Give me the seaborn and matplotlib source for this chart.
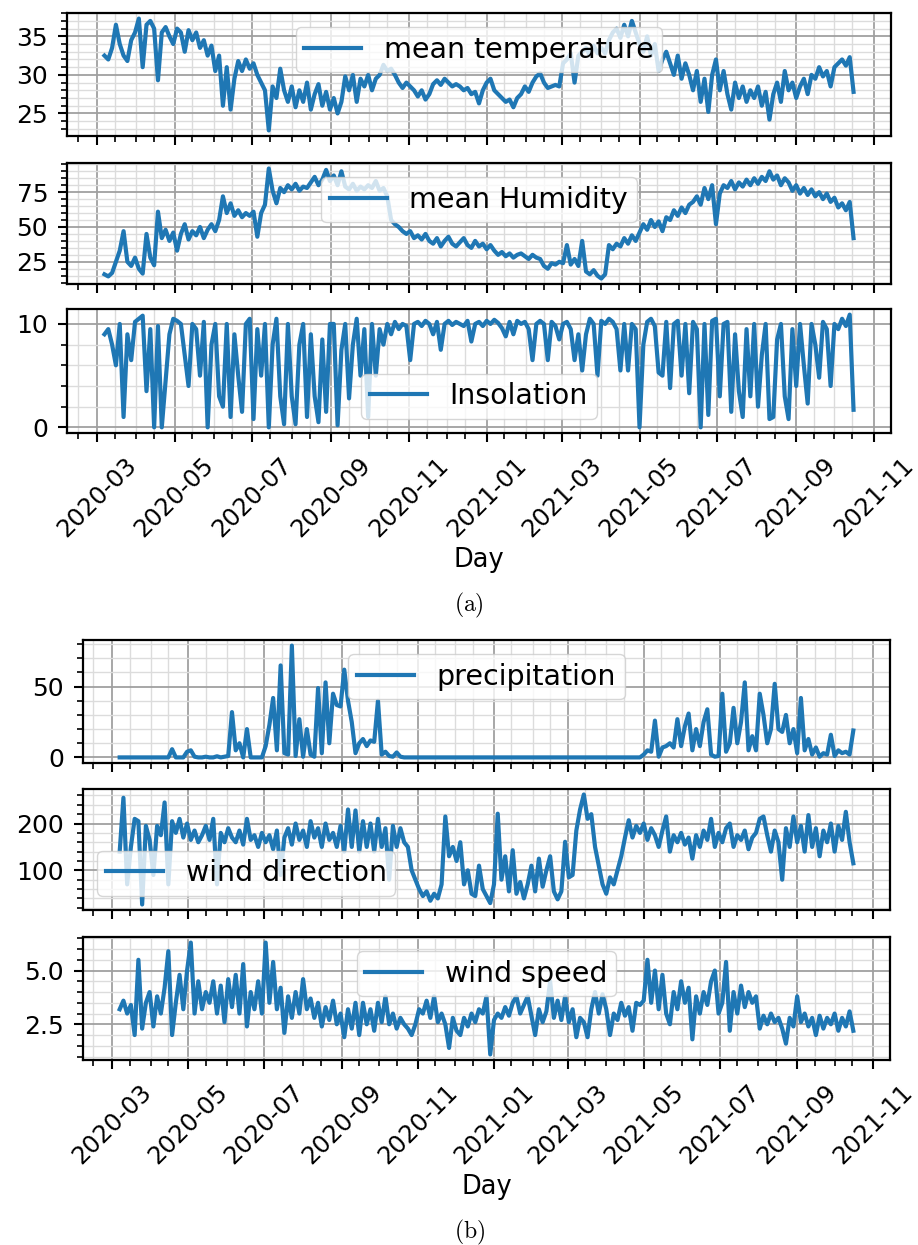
import numpy as np
import pandas as pd
import matplotlib
matplotlib.use("Agg")
import matplotlib.pyplot as plt
import matplotlib.dates as mdates
from matplotlib.ticker import MultipleLocator, AutoMinorLocator
import seaborn as sns

# ---------------- data (values every 3 days starting 2020-03-07) ----------------
start_date = "2020-03-07"
step = "3D"

mean_temperature = [
    32.5, 32.0, 33.5, 36.5, 34.0, 32.5, 31.8, 34.5, 35.5, 37.3,
    31.0, 36.5, 37.0, 36.0, 29.3, 35.5, 36.2, 35.0, 34.0, 36.0,
    35.5, 33.0, 35.8, 34.5, 35.5, 33.5, 34.5, 32.5, 33.8, 30.5,
    32.5, 26.0, 31.0, 25.5, 29.5, 31.8, 30.5, 32.0, 30.8, 31.5,
    30.0, 29.0, 28.0, 22.8, 28.5, 27.0, 30.8, 28.0, 26.5, 28.5,
    25.8, 28.0, 26.5, 29.0, 25.5, 27.5, 28.8, 26.0, 27.8, 25.5,
    27.0, 25.0, 26.5, 29.8, 28.0, 30.0, 26.5, 29.5, 28.5, 30.0,
    28.0, 29.5, 30.0, 31.3, 30.5, 30.8, 30.0, 29.0, 28.3, 29.0,
    28.5, 28.0, 27.2, 28.0, 26.8, 27.5, 28.8, 29.3, 28.7, 29.5,
    29.0, 28.5, 28.8, 28.5, 28.0, 28.3, 27.5, 27.8, 26.3, 28.0,
    29.0, 29.5, 28.0, 27.5, 27.0, 26.5, 26.8, 25.8, 27.0, 27.5,
    28.5, 27.8, 29.0, 29.8, 30.2, 29.0, 28.3, 28.5, 28.7, 28.5,
    31.5, 32.0, 32.8, 29.0, 32.5, 33.0, 33.5, 32.5, 33.8, 32.8,
    33.5, 32.8, 34.5, 35.5, 36.0, 34.8, 36.5, 35.0, 37.0, 35.5,
    34.0, 33.0, 35.0, 32.5, 34.0, 30.5, 32.0, 33.0, 31.5, 30.0,
    32.5, 29.5, 31.5, 30.0, 28.0, 30.5, 26.5, 29.5, 25.2, 30.0,
    32.0, 28.0, 30.5, 27.5, 25.5, 29.0, 27.0, 28.5, 26.5, 28.0,
    27.0, 28.5, 26.0, 27.8, 24.2, 27.5, 29.0, 26.5, 30.5, 28.0,
    29.0, 27.0, 28.5, 29.5, 27.5, 30.0, 29.5, 31.0, 29.8, 30.5,
    28.5, 31.0, 31.5, 32.0, 31.2, 32.3, 27.8,
]

mean_humidity = [
    16.0, 14.5, 17.0, 25.0, 33.0, 47.0, 25.0, 22.0, 28.0, 20.0,
    16.5, 45.0, 28.0, 22.5, 61.0, 42.0, 48.0, 40.0, 46.0, 33.0,
    45.0, 52.0, 41.0, 47.0, 44.0, 50.0, 42.0, 48.0, 52.0, 47.0,
    55.0, 72.0, 60.0, 67.0, 58.0, 62.0, 57.0, 60.0, 58.0, 61.0,
    43.0, 60.0, 66.0, 92.0, 76.0, 67.0, 78.0, 75.0, 80.0, 77.0,
    81.0, 76.0, 79.0, 78.0, 82.0, 86.0, 80.0, 84.0, 91.0, 83.0,
    87.0, 80.0, 90.0, 79.0, 77.0, 81.0, 76.0, 79.0, 77.0, 80.0,
    78.0, 83.0, 76.0, 78.0, 72.0, 55.0, 52.0, 50.0, 47.0, 45.0,
    47.0, 42.0, 44.0, 41.0, 45.0, 40.0, 38.0, 42.0, 36.0, 40.0,
    43.0, 38.0, 36.0, 39.0, 42.0, 37.0, 35.0, 40.0, 36.0, 38.0,
    34.0, 37.0, 33.0, 30.0, 32.0, 29.0, 31.0, 28.0, 30.0, 31.0,
    29.0, 27.0, 30.0, 28.0, 27.0, 22.0, 20.0, 24.0, 23.0, 25.0,
    24.0, 37.0, 23.0, 27.0, 22.0, 40.0, 18.0, 16.0, 19.0, 15.0,
    13.0, 16.0, 37.0, 34.0, 38.0, 36.0, 42.0, 38.0, 44.0, 40.0,
    46.0, 52.0, 48.0, 55.0, 50.0, 54.0, 47.0, 57.0, 55.0, 62.0,
    58.0, 64.0, 60.0, 66.0, 68.0, 72.0, 66.0, 78.0, 70.0, 80.0,
    52.0, 74.0, 80.0, 78.0, 83.0, 77.0, 82.0, 79.0, 84.0, 80.0,
    85.0, 81.0, 86.0, 83.0, 90.0, 84.0, 87.0, 80.0, 85.0, 82.0,
    76.0, 80.0, 74.0, 78.0, 73.0, 77.0, 72.0, 75.0, 70.0, 74.0,
    68.0, 71.0, 64.0, 67.0, 62.0, 68.0, 42.0,
]

insolation = [
    9.0, 9.5, 8.0, 6.0, 10.0, 1.0, 9.0, 6.5, 10.2, 10.5,
    10.8, 3.5, 9.5, 0.0, 9.8, 0.0, 4.5, 9.0, 10.5, 10.3,
    10.0, 7.0, 4.0, 10.0, 9.5, 5.0, 10.2, 0.0, 8.0, 10.0,
    3.0, 2.0, 10.0, 1.0, 9.0, 5.0, 1.5, 10.0, 10.5, 0.8,
    9.5, 5.0, 10.0, 0.0, 8.0, 10.5, 3.0, 0.3, 10.0, 3.0,
    0.3, 8.0, 10.0, 1.0, 9.0, 3.0, 0.5, 8.5, 1.5, 10.0,
    10.0, 0.2, 7.5, 10.0, 2.8, 8.0, 10.5, 5.0, 9.5, 1.0,
    10.0, 5.0, 9.5, 8.0, 10.0, 9.0, 10.2, 9.5, 10.0, 9.8,
    6.5, 10.0, 10.2, 9.8, 10.3, 10.0, 9.0, 10.2, 7.5, 10.0,
    10.3, 9.9, 10.2, 10.0, 9.8, 10.3, 8.3, 10.0, 10.2, 9.8,
    10.3, 10.0, 10.4, 10.1, 9.6, 8.8, 10.2, 9.0, 10.3, 10.0,
    10.2, 9.5, 6.5, 10.0, 10.3, 10.0, 6.5, 10.2, 9.8, 8.5,
    10.0, 10.2, 9.5, 6.5, 9.0, 5.5, 9.0, 10.5, 10.0, 5.0,
    10.3, 10.0, 10.5, 10.2, 9.5, 5.5, 10.0, 5.5, 10.0, 9.5,
    0.0, 8.0, 10.2, 10.5, 9.8, 5.3, 5.0, 10.2, 3.8, 10.0,
    10.3, 5.0, 10.0, 3.3, 10.2, 9.5, 0.0, 10.0, 1.2, 10.3,
    10.5, 3.0, 10.0, 10.2, 1.5, 9.0, 3.5, 1.0, 9.5, 3.0,
    10.0, 2.0, 7.0, 10.0, 0.8, 1.0, 8.5, 10.0, 3.0, 0.8,
    9.5, 4.0, 10.0, 6.0, 2.3, 10.0, 8.0, 4.8, 10.2, 9.5,
    4.0, 10.0, 9.5, 10.5, 9.8, 10.9, 1.7,
]

precipitation = [
    0.0, 0.0, 0.0, 0.0, 0.0, 0.0, 0.0, 0.0, 0.0, 0.0,
    0.0, 0.0, 0.0, 0.0, 5.8, 0.0, 0.0, 0.0, 4.0, 5.0,
    0.5, 0.0, 0.0, 0.5, 0.0, 0.0, 0.8, 0.0, 0.5, 1.0,
    32.0, 5.0, 10.0, 0.0, 20.0, 0.0, 0.0, 0.0, 0.0, 8.0,
    23.0, 42.0, 5.0, 65.0, 3.0, 2.0, 79.0, 1.0, 27.0, 0.5,
    20.0, 2.0, 0.5, 49.0, 3.0, 53.0, 10.0, 45.0, 37.0, 36.0,
    62.0, 40.0, 25.0, 3.0, 10.0, 13.0, 8.0, 12.0, 11.0, 40.0,
    2.0, 4.0, 1.0, 0.5, 3.5, 0.5, 0.0, 0.0, 0.0, 0.0,
    0.0, 0.0, 0.0, 0.0, 0.0, 0.0, 0.0, 0.0, 0.0, 0.0,
    0.0, 0.0, 0.0, 0.0, 0.0, 0.0, 0.0, 0.0, 0.0, 0.0,
    0.0, 0.0, 0.0, 0.0, 0.0, 0.0, 0.0, 0.0, 0.0, 0.0,
    0.0, 0.0, 0.0, 0.0, 0.0, 0.0, 0.0, 0.0, 0.0, 0.0,
    0.0, 0.0, 0.0, 0.0, 0.0, 0.0, 0.0, 0.0, 0.0, 0.0,
    0.0, 0.0, 0.0, 0.0, 0.0, 0.0, 0.0, 0.0, 0.0, 0.0,
    2.0, 5.0, 4.0, 26.0, 0.5, 7.0, 8.0, 10.0, 7.0, 27.0,
    8.0, 22.0, 31.0, 5.0, 20.0, 8.0, 25.0, 34.0, 2.0, 0.5,
    1.0, 45.0, 4.0, 10.0, 35.0, 10.0, 25.0, 53.0, 5.0, 15.0,
    5.0, 45.0, 30.0, 10.0, 20.0, 52.0, 20.0, 18.0, 30.0, 10.0,
    20.0, 3.0, 42.0, 5.0, 13.0, 2.0, 7.0, 0.5, 3.0, 2.0,
    16.0, 1.0, 5.0, 3.0, 4.0, 2.0, 19.0,
]

wind_direction = [
    140, 255, 70, 150, 210, 205, 27, 195, 165, 90,
    195, 175, 245, 70, 205, 180, 210, 170, 200, 165,
    185, 160, 175, 195, 165, 210, 70, 180, 160, 190,
    170, 160, 185, 155, 210, 165, 175, 150, 180, 160,
    175, 145, 185, 90, 170, 190, 155, 200, 165, 185,
    150, 205, 170, 190, 150, 200, 165, 180, 150, 195,
    140, 230, 150, 228, 140, 205, 150, 200, 140, 210,
    150, 190, 80, 195, 150, 190, 160, 150, 100, 80,
    60, 45, 55, 35, 50, 40, 70, 215, 130, 150,
    120, 160, 70, 100, 50, 45, 110, 60, 45, 30,
    70, 221, 80, 130, 55, 143, 50, 75, 40, 70,
    110, 55, 125, 65, 100, 130, 55, 38, 55, 161,
    85, 90, 185, 230, 262, 210, 220, 150, 110, 70,
    50, 85, 70, 100, 130, 170, 207, 170, 195, 180,
    200, 165, 190, 175, 150, 185, 215, 140, 175, 160,
    180, 155, 170, 125, 175, 150, 185, 165, 210, 150,
    180, 160, 190, 200, 150, 175, 165, 185, 145, 170,
    180, 210, 215, 175, 140, 185, 160, 80, 190, 150,
    215, 160, 195, 140, 218, 150, 190, 130, 185, 160,
    200, 140, 195, 165, 225, 160, 115,
]

wind_speed = [
    3.2, 3.6, 3.0, 3.4, 2.0, 5.5, 2.3, 3.5, 4.0, 2.4,
    3.8, 3.0, 4.2, 5.9, 2.0, 3.5, 4.8, 3.2, 5.0, 6.3,
    3.0, 4.5, 3.2, 4.0, 3.5, 4.5, 3.0, 4.3, 2.6, 4.6,
    3.3, 4.8, 3.0, 5.3, 2.4, 4.0, 3.2, 4.5, 3.0, 6.3,
    3.5, 5.4, 3.2, 4.2, 2.1, 3.8, 2.8, 4.0, 3.0, 4.6,
    3.2, 3.7, 2.8, 3.5, 2.4, 3.3, 2.7, 3.6, 2.5, 3.0,
    1.9, 3.2, 2.3, 3.5, 2.0, 3.5, 2.5, 3.2, 2.2, 3.5,
    2.6, 3.8, 2.5, 3.0, 2.3, 2.8, 2.5, 2.3, 2.0, 2.5,
    3.2, 3.0, 3.6, 2.8, 3.8, 2.6, 3.0, 2.5, 1.4, 2.8,
    2.2, 2.0, 2.8, 2.4, 3.0, 2.6, 3.2, 3.0, 3.8, 1.1,
    2.7, 3.0, 2.8, 3.3, 2.9, 3.5, 3.8, 3.0, 3.4, 3.8,
    2.9, 2.0, 3.2, 2.6, 3.1, 4.5, 2.8, 3.6, 2.7, 3.8,
    2.6, 3.2, 1.9, 2.8, 2.6, 1.9, 3.2, 4.0, 3.0, 3.9,
    3.2, 2.0, 3.0, 2.7, 3.5, 2.9, 3.3, 2.2, 3.5, 3.4,
    3.6, 5.5, 3.5, 5.0, 3.2, 4.8, 3.0, 2.5, 4.0, 3.2,
    4.5, 3.5, 4.2, 1.8, 3.8, 3.0, 4.0, 3.4, 4.5, 5.0,
    3.0, 3.5, 5.4, 2.2, 4.0, 3.0, 4.3, 3.3, 4.0, 3.5,
    3.8, 2.3, 2.9, 2.5, 3.0, 2.6, 2.8, 2.3, 1.6, 2.8,
    2.4, 3.8, 2.6, 3.0, 2.4, 2.8, 2.0, 2.9, 2.3, 2.8,
    2.5, 3.0, 2.2, 2.8, 2.4, 3.1, 2.2,
]

series_labels = ["mean temperature", "mean Humidity", "Insolation",
                 "precipitation", "wind direction", "wind speed"]
major_steps = [5, 25, 10, 50, 100, 2.5]
legend_locs = ["upper center", "upper center", "lower center",
               "upper center", "lower left", "upper center"]

# ---------------- figure ----------------
dates = pd.date_range(start_date, periods=len(mean_temperature), freq=step)
df = pd.DataFrame({
    "Day": dates,
    "mean temperature": mean_temperature,
    "mean Humidity": mean_humidity,
    "Insolation": insolation,
    "precipitation": precipitation,
    "wind direction": wind_direction,
    "wind speed": wind_speed,
})

W, H = 918, 1245
fig = plt.figure(figsize=(W / 100, H / 100), dpi=100)

def rect(left, right, top, bottom):
    return [left / W, 1 - bottom / H, (right - left) / W, (bottom - top) / H]

rects = [
    rect(67, 891, 13, 136), rect(67, 891, 163, 284), rect(67, 891, 309, 433),
    rect(83, 890, 640, 763), rect(83, 890, 789, 910), rect(83, 890, 937, 1060),
]

color = "#1f77b4"
axes = []
for k, (r, lab, stp, loc) in enumerate(zip(rects, series_labels, major_steps, legend_locs)):
    share = None if k in (0, 3) else axes[0 if k < 3 else 3]
    ax = fig.add_axes(r, sharex=share)
    axes.append(ax)
    sns.lineplot(data=df, x="Day", y=lab, ax=ax, color=color, linewidth=3.0,
                 label=lab)
    ax.set_axisbelow(True)
    ax.yaxis.set_major_locator(MultipleLocator(stp))
    ax.yaxis.set_minor_locator(AutoMinorLocator())
    ax.xaxis.set_major_locator(mdates.MonthLocator(bymonth=[1, 3, 5, 7, 9, 11]))
    ax.xaxis.set_minor_locator(mdates.DayLocator(bymonthday=[1, 15]))
    ax.xaxis.set_major_formatter(mdates.DateFormatter("%Y-%m"))
    ax.grid(True, which="major", color="#a0a0a0", linewidth=1.3)
    ax.grid(True, which="minor", color="#dcdcdc", linewidth=1.0)
    for s in ax.spines.values():
        s.set_linewidth(1.6)
    ax.tick_params(which="major", length=6.5, width=1.5)
    ax.tick_params(which="minor", length=4, width=1.2)
    ax.tick_params(axis="y", which="major", labelsize=18, pad=7)
    ax.set_ylabel("")
    ax.legend(loc=loc, fontsize=20.5, borderpad=0.3)
    if k in (2, 5):
        ax.tick_params(axis="x", which="major", labelrotation=45, labelsize=17.5, pad=8)
        ax.set_xlabel("Day", fontsize=18.5, labelpad=4)
    else:
        ax.tick_params(axis="x", labelbottom=False)
        ax.set_xlabel("")

fig.text(469 / W, 1 - 605 / H, r"$\mathrm{(a)}$", fontsize=17,
         math_fontfamily="cm", ha="center", va="center")
fig.text(470 / W, 1 - 1232 / H, r"$\mathrm{(b)}$", fontsize=17,
         math_fontfamily="cm", ha="center", va="center")

fig.savefig("out.png", dpi=100)
